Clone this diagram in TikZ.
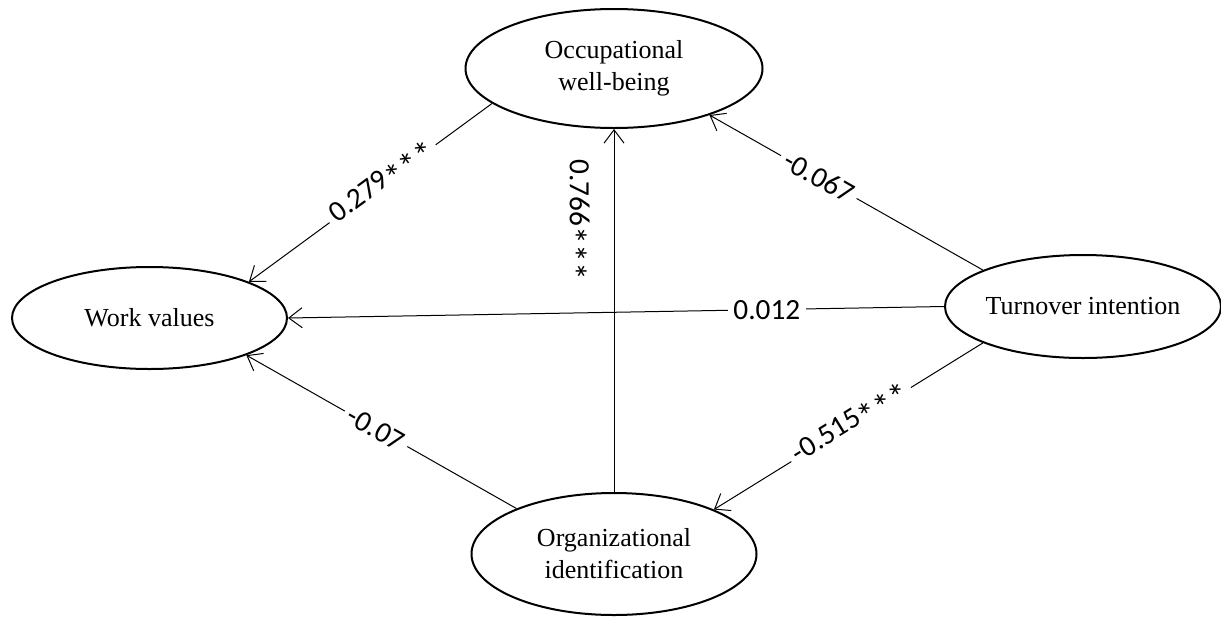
\documentclass[tikz,border=0pt]{standalone}
\usepackage{fontspec}
\setmainfont{Liberation Serif}
\newfontfamily\lblfont{Carlito}
\usetikzlibrary{shapes.geometric,arrows.meta}
\newcommand\onestar{\raisebox{-6.5pt}{\fontsize{27}{27}\selectfont*}}
\newcommand\stars{\onestar\onestar\onestar}
\begin{document}
\begin{tikzpicture}[x=0.75pt,y=-0.75pt,
  lat/.style={ellipse, draw, line width=1.5pt, inner sep=0pt, align=center,
    font=\fontsize{19.5}{24}\selectfont},
  conn/.style={draw, line width=0.75pt, -{Straight Barb[length=10pt,width=15pt]}},
  coef/.style={fill=white, inner sep=4pt, font=\lblfont\fontsize{22}{26}\selectfont}]
\useasboundingbox (0,0) rectangle (1221,618);
\node[lat, minimum width=222.75pt, minimum height=89.25pt] (owb) at (614,68.5) {Occupational\\well-being};
\node[lat, minimum width=206.25pt, minimum height=76.5pt] (wv) at (149.5,318) {Work values};
\node[lat, minimum width=207pt, minimum height=77.25pt] (ti) at (1083,306.5) {Turnover intention};
\node[lat, minimum width=213.75pt, minimum height=91.5pt] (oi) at (614,554) {Organizational\\identification};

\draw[conn] (owb.196.5) -- node[coef, sloped, pos=0.45] {0.279\stars} (wv.20);
\draw[conn] (oi.north) -- node[coef, fill=none, pos=0.75, xshift=-29pt, rotate=-90] {0.766\stars} (owb.south);
\draw[conn] (ti.160) -- node[coef, sloped, pos=0.6] {-0.067} (owb.-26);
\draw[conn] (ti.west) -- node[coef, pos=0.27] {0.012} (wv.east);
\draw[conn] (ti.200.6) -- node[coef, sloped, pos=0.49] {-0.515\stars} (oi.24);
\draw[conn] (oi.155.3) -- node[coef, sloped, pos=0.52] {-0.07} (wv.-21.6);
\end{tikzpicture}
\end{document}
